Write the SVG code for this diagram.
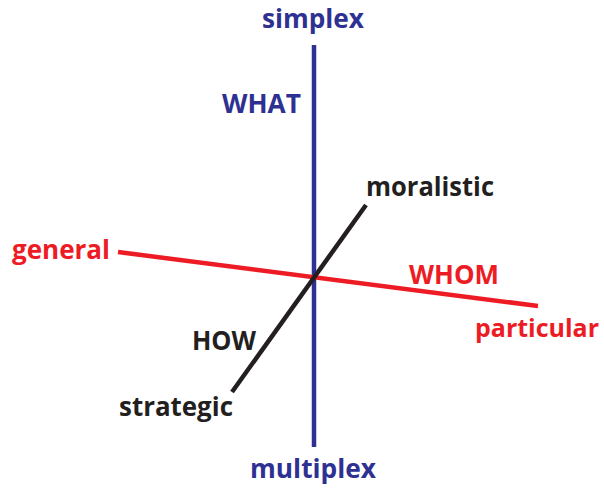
<svg xmlns="http://www.w3.org/2000/svg" width="604" height="489" viewBox="0 0 604 489">
<style>
text{font-family:"Open Sans","Noto Sans","Liberation Sans",sans-serif;font-weight:700;font-size:27px}
.b{fill:#2e3192}.r{fill:#ed1c24}.k{fill:#231f20}
</style>
<rect width="604" height="489" fill="#fff"/>
<g id="connectors" fill="none" stroke-width="4.5">
<line x1="314" y1="45" x2="314" y2="447" stroke="#2e3192"/>
<line x1="118" y1="252" x2="538" y2="306" stroke="#ed1c24"/>
<line x1="366" y1="205" x2="232" y2="392" stroke="#231f20"/>
</g>
<g id="simplex"><text class="b" x="262" y="28" textLength="102" lengthAdjust="spacingAndGlyphs">simplex</text></g>
<g id="what"><text class="b" x="222" y="113" textLength="79" lengthAdjust="spacingAndGlyphs">WHAT</text></g>
<g id="moralistic"><text class="k" x="366" y="196" textLength="128" lengthAdjust="spacingAndGlyphs">moralistic</text></g>
<g id="general"><text class="r" x="12" y="259" textLength="98" lengthAdjust="spacingAndGlyphs">general</text></g>
<g id="whom"><text class="r" x="409" y="284" textLength="90" lengthAdjust="spacingAndGlyphs">WHOM</text></g>
<g id="particular"><text class="r" x="475" y="337" style="font-size:25px" textLength="124" lengthAdjust="spacingAndGlyphs">particular</text></g>
<g id="how"><text class="k" x="192" y="350" textLength="64" lengthAdjust="spacingAndGlyphs">HOW</text></g>
<g id="strategic"><text class="k" x="119" y="416" textLength="114" lengthAdjust="spacingAndGlyphs">strategic</text></g>
<g id="multiplex"><text class="b" x="250" y="478" textLength="126" lengthAdjust="spacingAndGlyphs">multiplex</text></g>
</svg>
